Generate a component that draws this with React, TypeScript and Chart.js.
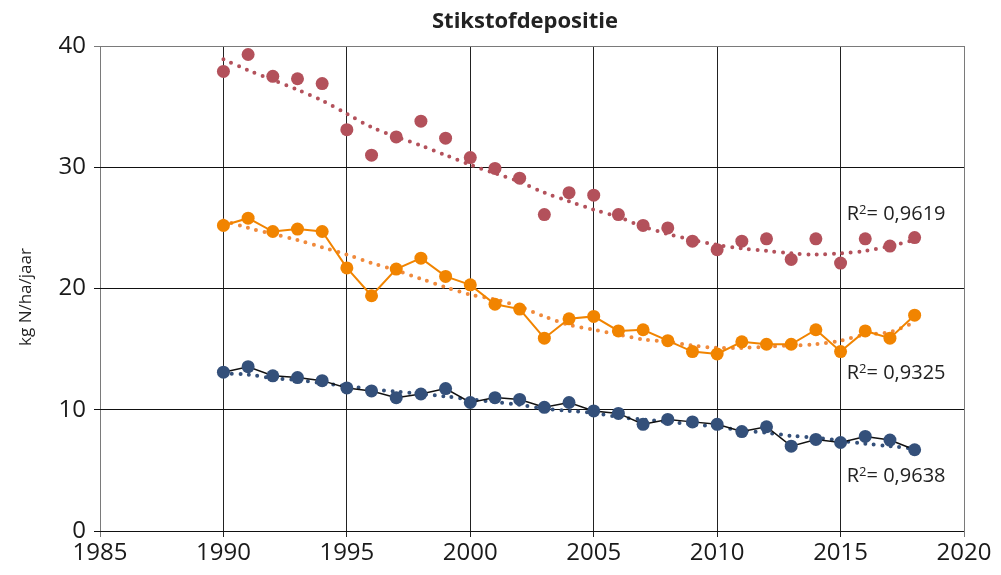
import React, { useEffect, useRef } from "react";
import { Chart, registerables } from "chart.js";

Chart.register(...registerables);

const years = [1990, 1991, 1992, 1993, 1994, 1995, 1996, 1997, 1998, 1999, 2000, 2001, 2002, 2003, 2004, 2005, 2006, 2007, 2008, 2009, 2010, 2011, 2012, 2013, 2014, 2015, 2016, 2017, 2018];

const redValues = [37.9, 39.3, 37.5, 37.3, 36.9, 33.1, 31.0, 32.5, 33.8, 32.4, 30.8, 29.9, 29.1, 26.1, 27.9, 27.7, 26.1, 25.2, 25.0, 23.9, 23.2, 23.9, 24.1, 22.4, 24.1, 22.1, 24.1, 23.5, 24.2];
const redTrend = [38.9, 38.0, 37.2, 36.4, 35.5, 34.4, 33.3, 32.5, 31.8, 31.0, 30.2, 29.5, 28.8, 27.9, 27.2, 26.5, 25.9, 25.1, 24.5, 24.0, 23.6, 23.3, 23.1, 22.9, 22.8, 22.9, 23.1, 23.5, 24.0];

const orangeValues = [25.2, 25.8, 24.7, 24.9, 24.7, 21.7, 19.4, 21.6, 22.5, 21.0, 20.3, 18.7, 18.3, 15.9, 17.5, 17.7, 16.5, 16.6, 15.7, 14.8, 14.6, 15.6, 15.4, 15.4, 16.6, 14.8, 16.5, 15.9, 17.8];
const orangeTrend = [25.6, 25.0, 24.5, 24.0, 23.4, 22.8, 22.1, 21.5, 20.8, 20.1, 19.5, 19.1, 18.5, 17.7, 17.0, 16.6, 16.2, 15.8, 15.6, 15.3, 15.1, 15.1, 15.2, 15.3, 15.4, 15.7, 16.2, 16.4, 17.2];

const navyValues = [13.1, 13.55, 12.8, 12.65, 12.4, 11.8, 11.55, 11.0, 11.3, 11.75, 10.6, 11.0, 10.85, 10.2, 10.6, 9.9, 9.7, 8.8, 9.2, 9.0, 8.8, 8.2, 8.6, 7.0, 7.55, 7.3, 7.8, 7.5, 6.7];
const navyTrend = [13.0, 12.9, 12.6, 12.45, 12.2, 11.95, 11.7, 11.5, 11.3, 11.1, 10.85, 10.65, 10.4, 10.1, 9.9, 9.75, 9.4, 9.2, 9.0, 8.8, 8.6, 8.3, 8.1, 7.85, 7.7, 7.45, 7.2, 7.0, 6.8];

const r2Texts = ["0,9619", "0,9325", "0,9638"];
const r2Anchors = [25.65, 12.54, 4.04];
const r2Year = 2015.25;

const chartTitle = "Stikstofdepositie";
const yAxisTitle = "kg N/ha/jaar";

const RED = "#B3515B";
const ORANGE = "#F18400";
const ORANGE_TREND = "#F08A3C";
const NAVY = "#34507A";
const FONT = "'Open Sans', 'Noto Sans', sans-serif";

const toPoints = (vals: number[]) => years.map((y, i) => ({ x: y, y: vals[i] }));

const textPlugin = {
  id: "texts",
  afterDraw(chart: any) {
    const ctx = chart.ctx as CanvasRenderingContext2D;
    const xs = chart.scales.x;
    const ys = chart.scales.y;
    ctx.save();
    ctx.fillStyle = "#222";
    ctx.font = `bold 22px ${FONT}`;
    ctx.textAlign = "center";
    ctx.textBaseline = "alphabetic";
    ctx.fillText(chartTitle, 525, 28);

    ctx.save();
    ctx.translate(31, 297);
    ctx.rotate(-Math.PI / 2);
    ctx.font = `17px ${FONT}`;
    ctx.textAlign = "center";
    ctx.textBaseline = "alphabetic";
    ctx.fillText(yAxisTitle, 0, 0);
    ctx.restore();

    ctx.textAlign = "left";
    r2Texts.forEach((t, i) => {
      const x = xs.getPixelForValue(r2Year);
      const y = ys.getPixelForValue(r2Anchors[i]);
      ctx.font = `20px ${FONT}`;
      ctx.fillText("R", x, y);
      const rw = ctx.measureText("R").width;
      ctx.font = `13px ${FONT}`;
      ctx.fillText("2", x + rw, y - 6);
      const sw = ctx.measureText("2").width;
      ctx.font = `20px ${FONT}`;
      ctx.fillText("= " + t, x + rw + sw, y);
    });
    ctx.restore();
  },
};

export default function App() {
  const ref = useRef<HTMLCanvasElement | null>(null);
  useEffect(() => {
    if (!ref.current) return;
    const trendStyle = (color: string) => ({
      borderColor: color,
      backgroundColor: color,
      borderWidth: 4,
      borderDash: [0, 8.5],
      borderCapStyle: "round" as const,
      pointRadius: 0,
      pointHoverRadius: 0,
      tension: 0.3,
      fill: false,
    });
    const chart = new Chart(ref.current, {
      type: "line",
      data: {
        datasets: [
          { data: toPoints(redTrend), ...trendStyle(RED) },
          {
            data: toPoints(redValues),
            showLine: false,
            pointRadius: 6.5,
            pointBackgroundColor: RED,
            pointBorderColor: RED,
            pointBorderWidth: 0,
            borderColor: RED,
          },
          {
            data: toPoints(orangeValues),
            borderColor: ORANGE,
            borderWidth: 2,
            pointRadius: 6.5,
            pointBackgroundColor: ORANGE,
            pointBorderColor: ORANGE,
            pointBorderWidth: 0,
            tension: 0,
          },
          { data: toPoints(orangeTrend), ...trendStyle(ORANGE_TREND) },
          {
            data: toPoints(navyValues),
            borderColor: "#111",
            borderWidth: 1.5,
            pointRadius: 6.5,
            pointBackgroundColor: NAVY,
            pointBorderColor: NAVY,
            pointBorderWidth: 0,
            tension: 0,
          },
          { data: toPoints(navyTrend), ...trendStyle(NAVY) },
        ],
      },
      options: {
        animation: false,
        responsive: false,
        maintainAspectRatio: false,
        layout: { padding: { top: 46, right: 37, left: 0, bottom: 0 } },
        plugins: { legend: { display: false }, tooltip: { enabled: false }, title: { display: false } },
        scales: {
          x: {
            type: "linear",
            min: 1985,
            max: 2020,
            ticks: { stepSize: 5, color: "#1a1a1a", font: { family: FONT, size: 24 }, padding: 2, maxRotation: 0, callback: (v: any) => String(v) },
            grid: {
              color: (c: any) => (c.tick && (c.tick.value === 1985 || c.tick.value === 2020) ? "#7a7a7a" : "#222"),
              tickLength: 6,
              lineWidth: 1,
            },
            border: { display: false },
            afterFit: (s: any) => { s.height = 44; },
          },
          y: {
            type: "linear",
            min: 0,
            max: 40,
            ticks: { stepSize: 10, color: "#1a1a1a", font: { family: FONT, size: 24 }, padding: 8 },
            grid: {
              color: (c: any) => (c.tick && c.tick.value === 40 ? "#7a7a7a" : "#111"),
              tickLength: 6,
              lineWidth: 1,
            },
            border: { display: false },
            afterFit: (s: any) => { s.width = 100; },
          },
        },
      },
      plugins: [textPlugin],
    });
    return () => chart.destroy();
  }, []);
  return (
    <div style={{ position: "absolute", left: 0, top: 0, width: 1001, height: 575, background: "#fff" }}>
      <canvas ref={ref} width={1001} height={575} style={{ width: 1001, height: 575, display: "block" }} />
    </div>
  );
}
